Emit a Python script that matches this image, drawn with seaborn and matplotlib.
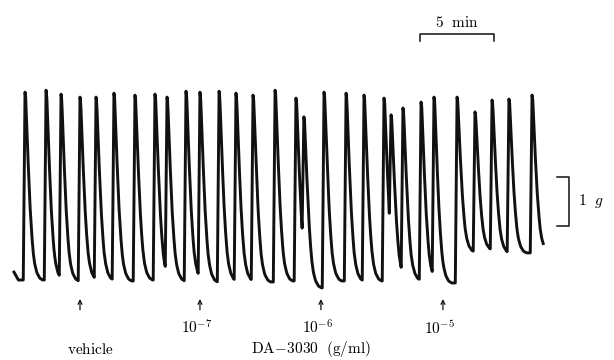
import numpy as np
import pandas as pd
import seaborn as sns
import matplotlib.pyplot as plt

# contraction peaks (time in min, force in g above first baseline)
peak_t = [0.75, 2.18, 3.20, 4.49, 5.58, 6.80, 8.23, 9.59, 10.41, 11.70,
          12.65, 13.95, 15.10, 16.26, 17.76, 19.18, 19.72, 21.09, 22.59, 23.81,
          25.17, 25.65, 26.46, 27.69, 28.57, 30.14, 31.36, 32.52, 33.67, 35.24]
peak_g = [3.81, 3.85, 3.77, 3.71, 3.71, 3.79, 3.75, 3.77, 3.71, 3.83,
          3.81, 3.83, 3.79, 3.75, 3.85, 3.69, 3.31, 3.81, 3.79, 3.75,
          3.69, 3.35, 3.49, 3.61, 3.71, 3.71, 3.41, 3.65, 3.67, 3.75]
# level each beat relaxes to
trough_g = [0.0, 0.0, -0.02, 0.0, 0.0, -0.02, 0.0, 0.0, -0.02, 0.0,
            -0.04, -0.02, -0.02, -0.04, -0.02, -0.02, -0.16, -0.02, -0.02, -0.02,
            0.0, 0.0, 0.0, -0.02, -0.06, 0.57, 0.61, 0.55, 0.55, 0.57]
start_t = [0.0, 0.3]
start_g = [0.16, 0.0]
end_t = 36.0

dose_t = [4.49, 12.65, 20.88, 29.18]
dose_labels = ['', r'$10^{-7}$', r'$10^{-6}$', r'$10^{-5}$']

# relaxation shape (time after peak, fraction of amplitude left)
decay_dt = [0, 0.05, 0.2, 0.35, 0.45, 0.55, 0.65, 0.8, 1.0, 1.2]
decay_fr = [1, 0.97, 0.65, 0.38, 0.25, 0.15, 0.09, 0.04, 0.01, 0]
rise = 0.12


def relax(t, i):
    f = np.interp(t - peak_t[i], decay_dt, decay_fr)
    return trough_g[i] + f * (peak_g[i] - trough_g[i])


ts, gs = list(start_t), list(start_g)
n = len(peak_t)
for i in range(n):
    onset = peak_t[i] - rise
    ts.append(onset)
    gs.append(relax(onset, i - 1) if i > 0 else start_g[-1])
    stop = peak_t[i + 1] - rise if i < n - 1 else end_t
    seg = np.linspace(peak_t[i], stop, 30, endpoint=False)
    ts.extend(seg)
    gs.extend(relax(seg, i))
ts.append(end_t)
gs.append(relax(end_t, n - 1))

df = pd.DataFrame({'t': ts, 'g': gs})

plt.rcParams['mathtext.fontset'] = 'cm'
fig = plt.figure(figsize=(6.14, 3.6), dpi=100)
ax = fig.add_axes([0, 0, 1, 1])
sns.lineplot(data=df, x='t', y='g', sort=False, estimator=None,
             color='#111111', lw=2.1, ax=ax)

ax.set_xlim(-0.952, 40.816)
ax.set_ylim(-1.623, 5.68)
ax.axis('off')

# 5 min scale bar
ax.plot([27.62, 27.62, 32.62, 32.62], [4.85, 4.99, 4.99, 4.85], color='#111111', lw=1.1)
ax.text(30.12, 5.23, r'$\mathrm{5\ \ min}$', ha='center', va='center', fontsize=11)
# 1 g scale bar
ax.plot([36.94, 37.76, 37.76, 36.94], [1.095, 1.095, 2.095, 2.095], color='#111111', lw=1.1)
ax.text(38.4, 1.6, r'$1\ \ g$', ha='left', va='center', fontsize=11)

for t, lab in zip(dose_t, dose_labels):
    ax.annotate('', xy=(t, -0.33), xytext=(t, -0.66),
                arrowprops=dict(arrowstyle='->', lw=0.9, color='#111111', mutation_scale=7))
    if lab:
        ax.text(t - 0.2, -0.97, lab, ha='center', va='center', fontsize=11)

ax.text(5.17, -1.42, r'$\mathrm{vehicle}$', ha='center', va='center', fontsize=11)
ax.text(20.2, -1.40, r'$\mathrm{DA\!-\!3030\ \ (g/ml)}$', ha='center', va='center', fontsize=11)

fig.savefig('out.png', dpi=100)
